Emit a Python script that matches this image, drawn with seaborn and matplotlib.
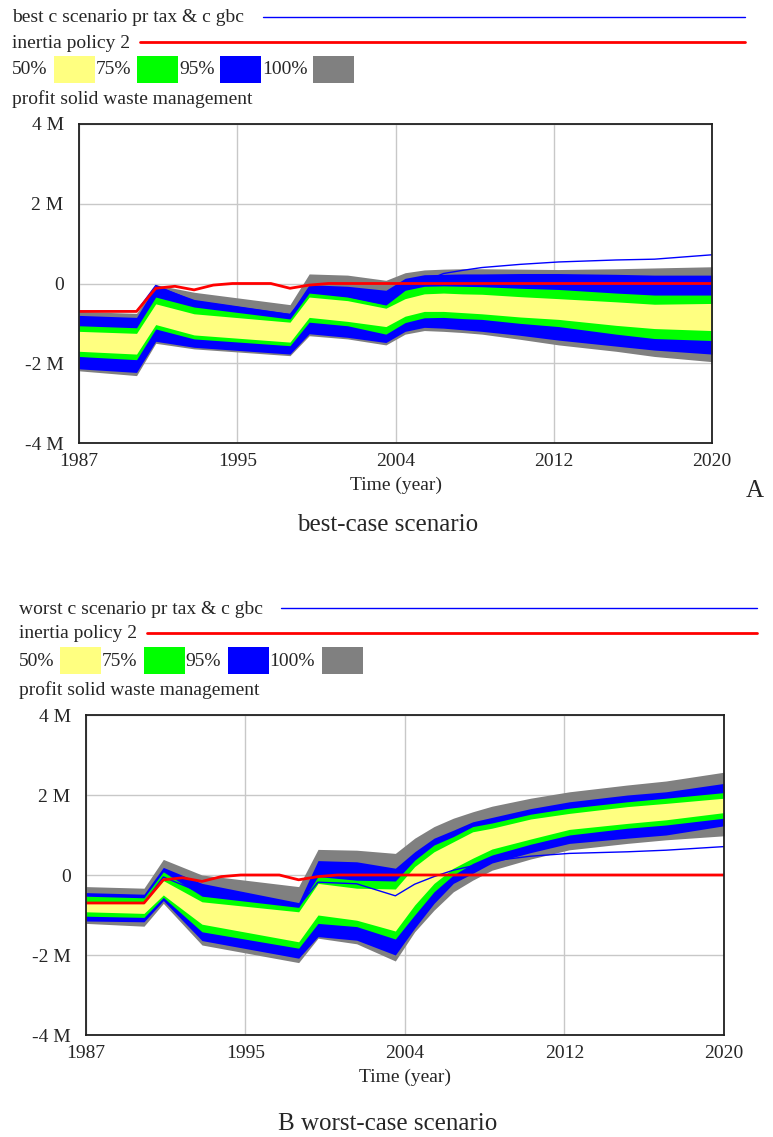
import numpy as np
import pandas as pd
import seaborn as sns
import matplotlib
import matplotlib.pyplot as plt
from matplotlib.lines import Line2D
from matplotlib.patches import Rectangle

matplotlib.use("Agg")
sns.set_style("white")
plt.rcParams["font.family"] = ["Liberation Serif", "DejaVu Serif"]

# ----------------------------
# Data (values in millions)
# ----------------------------
years = [1987, 1990, 1991, 1993, 1998, 1999, 2001, 2003, 2004, 2005,
         2006, 2007, 2008, 2010, 2012, 2015, 2017, 2020]

# best-case bands (100% / 95% / 75% / 50% envelopes)
best_g_hi = [-0.70, -0.75, -0.03, -0.22, -0.53, 0.24, 0.21, 0.08, 0.27, 0.34, 0.36, 0.37, 0.37, 0.36, 0.35, 0.37, 0.39, 0.42]
best_b_hi = [-0.80, -0.85, -0.05, -0.40, -0.75, -0.03, -0.07, -0.17, 0.13, 0.22, 0.23, 0.24, 0.24, 0.25, 0.25, 0.23, 0.21, 0.21]
best_gr_hi = [-1.06, -1.11, -0.34, -0.59, -0.89, -0.24, -0.34, -0.54, -0.17, -0.07, -0.06, -0.07, -0.08, -0.12, -0.15, -0.24, -0.29, -0.29]
best_y_hi = [-1.20, -1.25, -0.51, -0.76, -0.97, -0.34, -0.43, -0.62, -0.38, -0.26, -0.24, -0.26, -0.27, -0.33, -0.38, -0.46, -0.52, -0.50]
best_y_lo = [-1.70, -1.77, -1.03, -1.29, -1.47, -0.85, -0.95, -1.08, -0.82, -0.70, -0.70, -0.73, -0.76, -0.84, -0.90, -1.05, -1.13, -1.18]
best_gr_lo = [-1.83, -1.91, -1.14, -1.39, -1.56, -0.97, -1.06, -1.27, -0.98, -0.86, -0.85, -0.88, -0.90, -1.00, -1.08, -1.27, -1.38, -1.43]
best_b_lo = [-2.14, -2.23, -1.45, -1.60, -1.77, -1.26, -1.35, -1.48, -1.20, -1.10, -1.12, -1.16, -1.20, -1.30, -1.42, -1.57, -1.67, -1.77]
best_g_lo = [-2.19, -2.31, -1.50, -1.64, -1.81, -1.31, -1.39, -1.54, -1.27, -1.18, -1.20, -1.23, -1.27, -1.40, -1.54, -1.70, -1.83, -1.96]
best_line = [-0.70, -0.70, -0.05, -0.45, -0.78, -0.20, -0.32, -0.52, -0.15, 0.05, 0.25, 0.33, 0.40, 0.48, 0.54, 0.59, 0.61, 0.72]

# worst-case bands
worst_g_hi = [-0.29, -0.33, 0.39, 0.00, -0.29, 0.64, 0.62, 0.54, 0.92, 1.21, 1.42, 1.58, 1.72, 1.92, 2.08, 2.25, 2.35, 2.57]
worst_b_hi = [-0.44, -0.48, 0.19, -0.21, -0.69, 0.36, 0.33, 0.17, 0.58, 0.92, 1.12, 1.33, 1.44, 1.66, 1.83, 2.00, 2.08, 2.29]
worst_gr_hi = [-0.53, -0.57, 0.08, -0.53, -0.81, -0.04, -0.13, -0.15, 0.37, 0.75, 0.96, 1.21, 1.30, 1.52, 1.67, 1.83, 1.92, 2.06]
worst_y_hi = [-0.71, -0.69, -0.14, -0.67, -0.92, -0.21, -0.33, -0.35, 0.21, 0.58, 0.83, 1.08, 1.17, 1.40, 1.54, 1.71, 1.79, 1.92]
worst_y_lo = [-0.92, -0.96, -0.50, -1.23, -1.67, -1.00, -1.13, -1.40, -0.75, -0.21, 0.17, 0.42, 0.65, 0.90, 1.14, 1.29, 1.38, 1.56]
worst_gr_lo = [-1.03, -1.06, -0.56, -1.42, -1.83, -1.21, -1.29, -1.60, -1.00, -0.42, 0.00, 0.29, 0.50, 0.77, 1.00, 1.17, 1.25, 1.42]
worst_b_lo = [-1.15, -1.17, -0.64, -1.64, -2.08, -1.54, -1.63, -2.00, -1.33, -0.71, -0.21, 0.04, 0.30, 0.56, 0.79, 0.92, 1.00, 1.23]
worst_g_lo = [-1.21, -1.28, -0.71, -1.75, -2.19, -1.58, -1.72, -2.15, -1.42, -0.88, -0.42, -0.13, 0.12, 0.40, 0.63, 0.79, 0.88, 0.98]
worst_line = [-0.70, -0.70, -0.05, -0.45, -0.78, -0.18, -0.22, -0.52, -0.23, -0.04, 0.12, 0.23, 0.35, 0.47, 0.54, 0.58, 0.62, 0.71]

# inertia policy 2 (same in both panels)
red_years = [1987, 1990, 1991, 1992, 1993, 1994, 1995, 1997, 1998, 1999, 2000, 2020]
red_vals = [-0.70, -0.70, -0.12, -0.07, -0.16, -0.04, 0.00, 0.00, -0.12, -0.04, 0.00, 0.00]

x_ticks = [1987, 1995.25, 2003.5, 2011.75, 2020]
x_labels = ["1987", "1995", "2004", "2012", "2020"]
y_ticks = [-4, -2, 0, 2, 4]
y_labels = ["-4 M", "-2 M", "0", "2 M", "4 M"]
pct_labels = ["50%", "75%", "95%", "100%"]
band_colors = ["#FFFF80", "#00FF00", "#0000FF", "#808080"]

W, H = 773, 1137
FS = 14


def fx(px):
    return px / W


def fy(py):
    return 1 - py / H


def draw_panel(ax, bands, line):
    # bands go from the outer (100%) envelope to the inner (50%) one
    for (lo, hi), c in zip(bands, band_colors[::-1]):
        ax.fill_between(years, lo, hi, color=c, linewidth=0)
    df_line = pd.DataFrame({"year": years, "val": line})
    sns.lineplot(data=df_line, x="year", y="val", ax=ax, color="#0000FF", lw=1.0)
    df_red = pd.DataFrame({"year": red_years, "val": red_vals})
    sns.lineplot(data=df_red, x="year", y="val", ax=ax, color="#FF0000", lw=2.0)
    ax.set_xlim(1987, 2020)
    ax.set_ylim(-4, 4)
    ax.set_xticks(x_ticks)
    ax.set_xticklabels(x_labels, fontsize=FS)
    ax.set_yticks(y_ticks)
    ax.set_yticklabels(y_labels, fontsize=FS)
    ax.tick_params(axis="x", length=0, pad=7)
    ax.tick_params(axis="y", length=0, pad=11)
    ax.grid(True, color="#C8C8C8", lw=1.0)
    ax.set_axisbelow(True)
    ax.set_xlabel("Time (year)", fontsize=FS, labelpad=5)
    ax.set_ylabel("")
    for s in ax.spines.values():
        s.set_color("#202020")
        s.set_linewidth(1.3)
        s.set_visible(True)


def draw_legend(y0, x_text, line_label, blue_x0, red_x0, x_end, box_xs, pct_xs):
    fig.text(fx(x_text), fy(y0), line_label, fontsize=FS, va="center", ha="left")
    fig.add_artist(Line2D([fx(blue_x0), fx(x_end)], [fy(y0 - 1)] * 2,
                          transform=fig.transFigure, color="#0000FF", lw=1.0))
    fig.text(fx(x_text), fy(y0 + 25), "inertia policy 2", fontsize=FS, va="center", ha="left")
    fig.add_artist(Line2D([fx(red_x0), fx(x_end)], [fy(y0 + 24)] * 2,
                          transform=fig.transFigure, color="#FF0000", lw=2.0))
    for lab, px, bx, c in zip(pct_labels, pct_xs, box_xs, band_colors):
        fig.text(fx(px), fy(y0 + 52), lab, fontsize=FS, va="center", ha="left")
        fig.add_artist(Rectangle((fx(bx), fy(y0 + 65)), 41 / W, 27 / H,
                                 transform=fig.transFigure, facecolor=c, edgecolor="none"))
    fig.text(fx(x_text), fy(y0 + 81), "profit solid waste management", fontsize=FS,
             va="center", ha="left")


fig = plt.figure(figsize=(W / 100, H / 100), dpi=100)

# top panel: best-case scenario
ax1 = fig.add_axes([fx(79), fy(443), 633 / W, 319 / H])
draw_panel(ax1,
           [(best_g_lo, best_g_hi), (best_b_lo, best_b_hi),
            (best_gr_lo, best_gr_hi), (best_y_lo, best_y_hi)],
           best_line)
draw_legend(18, 12, "best c scenario pr tax & c gbc", 263, 140, 745,
            [54, 137, 220, 313], [12, 96, 179, 262])
fig.text(fx(755), fy(491), "A", fontsize=18, va="center", ha="center")
fig.text(fx(388), fy(525), "best-case scenario", fontsize=18, va="center", ha="center")

# bottom panel: worst-case scenario
ax2 = fig.add_axes([fx(86), fy(1035), 638 / W, 320 / H])
draw_panel(ax2,
           [(worst_g_lo, worst_g_hi), (worst_b_lo, worst_b_hi),
            (worst_gr_lo, worst_gr_hi), (worst_y_lo, worst_y_hi)],
           worst_line)
draw_legend(609, 19, "worst c scenario pr tax & c gbc", 281, 147, 757,
            [60, 144, 228, 322], [19, 102, 185, 269])
fig.text(fx(388), fy(1124), "B worst-case scenario", fontsize=18, va="center", ha="center")

fig.savefig("out.png", dpi=100)
